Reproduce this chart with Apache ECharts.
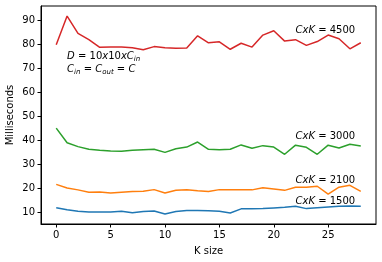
<!DOCTYPE html>
<html><head><meta charset="utf-8">
<script src="https://cdn.jsdelivr.net/npm/echarts@6/dist/echarts.min.js"></script>
<style>html,body{margin:0;padding:0;background:#fff}#c{width:382px;height:262px}</style>
</head><body><div id="c"></div>
<script>
// ---- data ----
const kSize = [0,1,2,3,4,5,6,7,8,9,10,11,12,13,14,15,16,17,18,19,20,21,22,23,24,25,26,27,28];
const ms1500 = [11.9,11.0,10.4,10.1,10.1,10.1,10.4,9.8,10.3,10.5,9.3,10.3,10.7,10.7,10.6,10.4,9.7,11.4,11.4,11.5,11.8,12.1,12.5,11.5,11.9,12.2,12.5,12.6,12.5];
const ms2100 = [21.6,20.1,19.3,18.3,18.4,18.0,18.3,18.6,18.7,19.4,18.0,19.1,19.4,18.9,18.6,19.4,19.4,19.4,19.3,20.2,19.7,19.1,20.4,20.4,20.8,17.5,20.4,21.2,18.7];
const ms3000 = [45.0,38.9,37.3,36.2,35.8,35.5,35.4,35.8,36.0,36.2,34.9,36.4,37.1,39.2,36.2,36.0,36.2,38.0,36.6,37.7,37.1,34.1,37.9,37.0,34.1,37.9,36.7,38.3,37.6];
const ms4500 = [79.7,91.6,84.4,81.8,78.6,78.7,78.7,78.4,77.6,78.9,78.4,78.2,78.3,83.4,80.5,80.9,77.8,80.3,78.7,83.7,85.5,81.2,81.8,79.4,81.0,83.7,82.2,78.0,80.5];
const xTicks = [0,5,10,15,20,25];
const yTicks = [10,20,30,40,50,60,70,80,90];
const seriesNames = ['CxK = 1500','CxK = 2100','CxK = 3000','CxK = 4500'];
const seriesVals = [ms1500, ms2100, ms3000, ms4500];
const colors = ['#1f77b4','#ff7f0e','#2ca02c','#d62728'];
// annotation anchors (data coords)
const annoX = 22;
const annoY = [14.3, 23.4, 41.7, 85.8];
const annoNums = ['1500','2100','3000','4500'];
const noteAnchor = [1, 77.5];

const font = 'DejaVu Sans';
const chart = echarts.init(document.getElementById('c'), null, {renderer:'canvas'});
const option = {
  animation: false,
  grid: {left:41, right:6, top:6, bottom:38, containLabel:false, outerBoundsMode:'none',
         show:true, borderColor:'#000', borderWidth:1, backgroundColor:'transparent'},
  xAxis: {
    type:'value', min:-1.4, max:29.4,
    name:'K size', nameLocation:'middle', nameGap:22, nameMoveOverlap:false,
    nameTextStyle:{fontFamily:font, fontSize:10, color:'#000'},
    axisLine:{show:true, onZero:false, lineStyle:{color:'#000', width:1}},
    splitLine:{show:false},
    axisTick:{show:true, length:3.5, customValues:xTicks, lineStyle:{color:'#000'}},
    axisLabel:{customValues:xTicks, margin:6, fontFamily:font, fontSize:10, color:'#000'}
  },
  yAxis: {
    type:'value', min:5.1, max:95.8,
    name:'Milliseconds', nameLocation:'middle', nameGap:26, nameRotate:90, nameMoveOverlap:false,
    nameTextStyle:{fontFamily:font, fontSize:10, color:'#000'},
    axisLine:{show:true, onZero:false, lineStyle:{color:'#000', width:1}},
    splitLine:{show:false},
    axisTick:{show:true, length:3.5, customValues:yTicks, lineStyle:{color:'#000'}},
    axisLabel:{customValues:yTicks, margin:6, fontFamily:font, fontSize:10, color:'#000'}
  },
  series: seriesVals.map((vals, i) => ({
    name: seriesNames[i], type:'line', symbol:'none',
    data: kSize.map((k, j) => [k, vals[j]]),
    lineStyle:{color:colors[i], width:1.5}, itemStyle:{color:colors[i]}
  }))
};
chart.setOption(option);

const graphics = [];
annoY.forEach((y, i) => {
  const p = chart.convertToPixel({gridIndex:0}, [annoX, y]);
  graphics.push({
    type:'text', x:p[0], y:p[1], z:10,
    style:{
      text:'{i|CxK} = ' + annoNums[i],
      fontFamily:font, fontSize:10, fill:'#000',
      align:'left', verticalAlign:'middle',
      rich:{i:{fontFamily:font, fontSize:10, fontStyle:'italic'}}
    }
  });
});
const np = chart.convertToPixel({gridIndex:0}, noteAnchor);
graphics.push({
  type:'text', x:np[0], y:np[1], z:10,
  style:{
    text:'{i|D} = 10{i|x}10{i|xC}{s|in}\n{i|C}{s|in} = {i|C}{s|out} = {i|C}',
    fontFamily:font, fontSize:10, fill:'#000', lineHeight:13,
    align:'left', verticalAlign:'top',
    rich:{
      i:{fontFamily:font, fontSize:10, fontStyle:'italic', lineHeight:13},
      s:{fontFamily:font, fontSize:7, fontStyle:'italic', padding:[5,0,0,0], lineHeight:13}
    }
  }
});
chart.setOption({graphic: graphics});
</script>
</body></html>
